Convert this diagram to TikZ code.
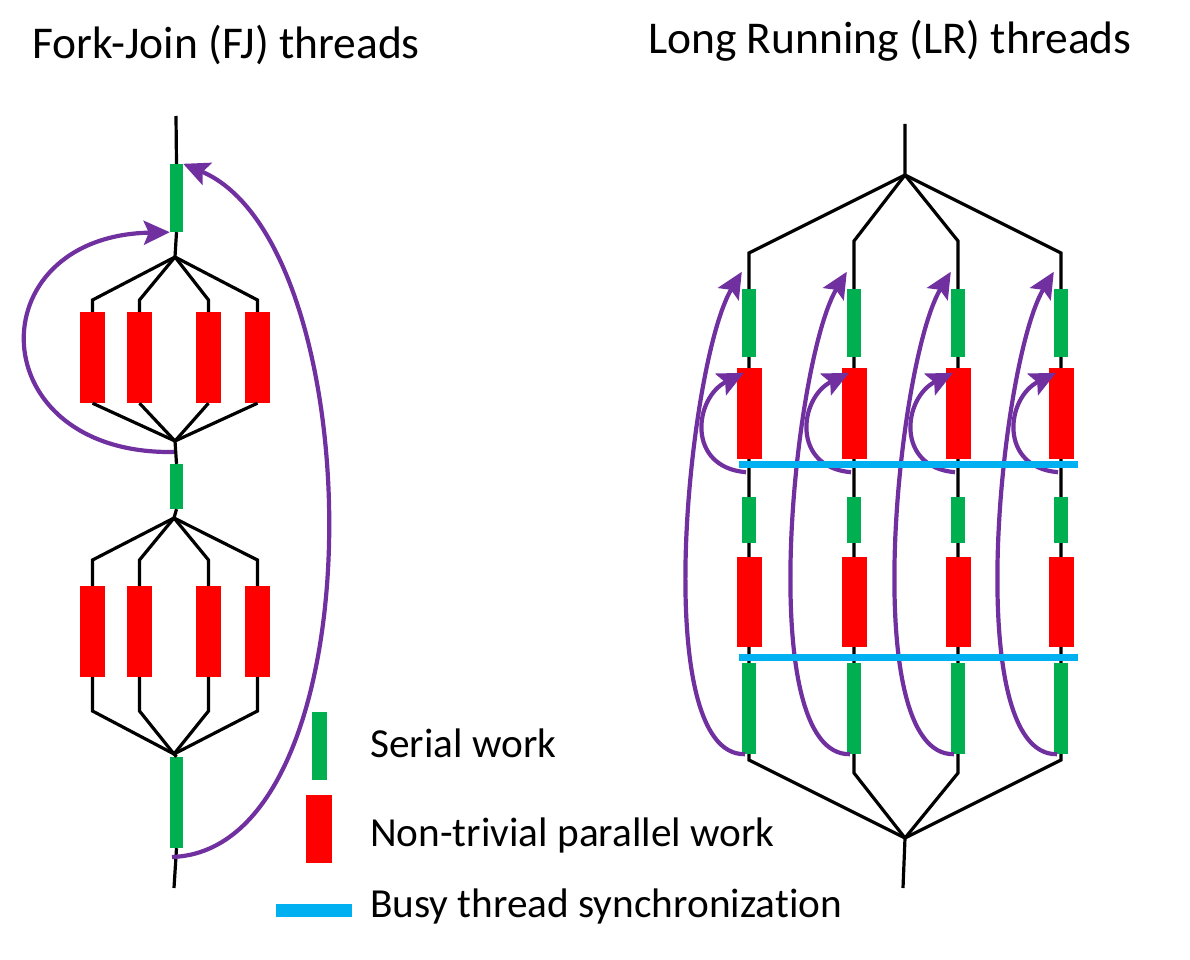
\documentclass[tikz,border=0pt]{standalone}
\usepackage{fontspec}
\setmainfont{Carlito}[Ligatures=NoCommon]
\usetikzlibrary{arrows.meta}
\definecolor{serialgreen}{HTML}{00B050}
\definecolor{parred}{HTML}{FF0000}
\definecolor{stealpurple}{HTML}{7030A0}
\definecolor{syncblue}{HTML}{00B0F0}
\tikzset{
	serialbox/.style={fill=serialgreen,inner sep=0pt,minimum width=14pt},
	parbox/.style={fill=parred,inner sep=0pt,minimum width=25pt},
	syncbar/.style={fill=syncblue,inner sep=0pt,minimum height=7pt},
	thread/.style={draw=black,line width=3.2pt},
	steal/.style={draw=stealpurple,line width=4.2pt,-{Stealth[length=26pt,width=24pt,inset=5pt]}},
	title/.style={anchor=base west,inner sep=0pt,font=\fontsize{45.5}{50}\selectfont},
	legtext/.style={anchor=base west,inner sep=0pt,font=\fontsize{41.3}{46}\selectfont}
}

\begin{document}
\begin{tikzpicture}[x=1pt,y=-1pt]
	\useasboundingbox (0,0) rectangle (1190,960);
	\node[title] (fjtitle) at (32,59) {Fork-Join (FJ) threads};
	\node[title] (lrtitle) at (648,54) {Long Running (LR) threads};

	\coordinate (fjtop) at (176,116);
	\coordinate (fjA) at (175,257);
	\coordinate (fjB) at (175,441);
	\coordinate (fjC) at (174,518);
	\coordinate (fjD) at (174,754);
	\coordinate (fjbot) at (174,888);
	\node[serialbox,minimum width=13pt,minimum height=68pt] (sA) at (176.5,198) {};
	\node[serialbox,minimum width=13pt,minimum height=45pt] (sB) at (176.5,486.5) {};
	\node[serialbox,minimum width=13pt,minimum height=91pt] (sC) at (176.5,802.5) {};
	\foreach \i/\x in {1/92.5,2/139.5,3/208.5,4/257.5} {
		\node[parbox,minimum height=91pt] (pA\i) at (\x,357.5) {};
		\node[parbox,minimum height=91pt] (pB\i) at (\x,631.5) {};
		\draw[thread] (fjA) -- (\x,300) -- (pA\i.north);
		\draw[thread] (pA\i.south) -- (fjB);
		\draw[thread] (fjC) -- (\x,560) -- (pB\i.north);
		\draw[thread] (pB\i.south) -- (\x,711) -- (fjD);
	}
	\draw[thread] (fjtop) -- (sA.north) (sA.south) -- (fjA) (fjB) -- (sB.north) (sB.south) -- (fjC) (fjD) -- (sC.north) (sC.south) -- (fjbot);
	\coordinate (loopA) at (174,452);
	\coordinate (loopC) at (172,857);
	\draw[steal] (loopA) .. controls +(-194,3) and +(-194,4) .. (sA.south west);
	\draw[steal] (loopC) .. controls +(208,-7) and +(190,80) .. (sA.north east);

	\node[serialbox,minimum width=15pt,minimum height=68pt] (legS) at (319.5,746) {};
	\node[parbox,minimum width=26pt,minimum height=68pt] (legP) at (319,829) {};
	\node[syncbar,minimum width=76pt,minimum height=13pt] (legB) at (314,910.5) {};
	\node[legtext] (legStext) at (370,757) {Serial work};
	\node[legtext] (legPtext) at (370,846) {Non-trivial parallel work};
	\node[legtext] (legBtext) at (370,917) {Busy thread synchronization};

	\coordinate (lrtop) at (905,124);
	\coordinate (lrA) at (905,175);
	\coordinate (lrB) at (905,838);
	\coordinate (lrbot) at (903,888);
	\draw[thread] (lrtop) -- (lrA) (lrB) -- (lrbot);
	\foreach \i/\x/\k/\b in {1/749/253/760,2/854/241/773,3/958/241/773,4/1061/253/760} {
		\node[serialbox,minimum height=68pt] (s1\i) at (\x,323) {};
		\node[parbox,minimum height=91pt] (p1\i) at (\x,413.5) {};
		\node[serialbox,minimum height=46pt] (s2\i) at (\x,520) {};
		\node[parbox,minimum height=90pt] (p2\i) at (\x,602) {};
		\node[serialbox,minimum height=91pt] (s3\i) at (\x,708.5) {};
		\draw[thread] (lrA) -- (\x,\k) -- (s1\i.north) (s1\i.south) -- (p1\i.north) (p1\i.south) -- (s2\i.north) (s2\i.south) -- (p2\i.north) (p2\i.south) -- (s3\i.north) (s3\i.south) -- (\x,\b) -- (lrB);
	}
	\foreach \i in {1,...,4} {
		\draw[steal] ([xshift=-4pt]s3\i.south) .. controls +(-97,2) and +(-53,88) .. ([yshift=17pt]s1\i.north west);
		\draw[steal] ([xshift=-3pt,yshift=-13pt]p1\i.south) .. controls +(-60,-5) and +(-50,25) .. ([xshift=-5pt,yshift=-5pt]p1\i.north);
	}
	\node[syncbar,minimum width=339pt] (syncA) at (908.5,464) {};
	\node[syncbar,minimum width=339pt] (syncB) at (908.5,657) {};
\end{tikzpicture}
\end{document}
